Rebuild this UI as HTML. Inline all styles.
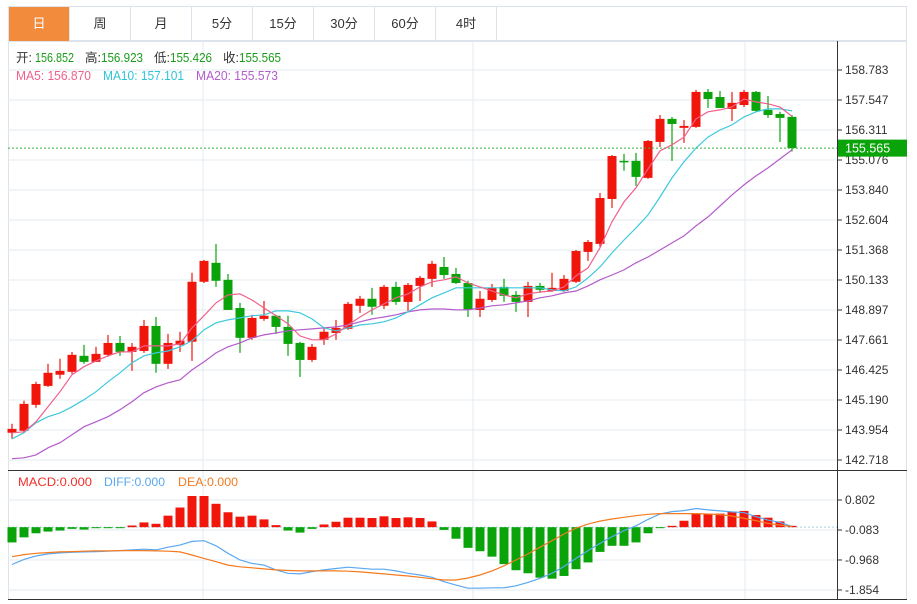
<!DOCTYPE html>
<html><head><meta charset="utf-8">
<style>
html,body{margin:0;padding:0;background:#fff;width:917px;height:604px;overflow:hidden;font-family:"Liberation Sans","Noto Sans CJK SC",sans-serif;}
#tabs{position:absolute;left:8px;top:6px;height:35px;width:899px;border:1px solid #dde3ea;box-sizing:border-box;display:flex;}
.tab{width:61px;height:34px;line-height:34px;text-align:center;font-size:13px;color:#333;border-right:1px solid #dde3ea;box-sizing:border-box;}
.tab.on{background:#f28c3c;color:#fff;}
svg{position:absolute;left:0;top:0;}
</style></head><body>
<div id="tabs">
<div class="tab on">日</div>
<div class="tab">周</div>
<div class="tab">月</div>
<div class="tab">5分</div>
<div class="tab">15分</div>
<div class="tab">30分</div>
<div class="tab">60分</div>
<div class="tab">4时</div>
</div>
<svg id="chart" width="917" height="604"></svg>
<script>
const opens=[143.84,143.92,144.99,145.77,146.23,146.35,147.01,146.76,147.05,147.54,147.17,147.21,148.24,146.68,147.46,147.59,150.06,150.84,150.14,148.98,147.75,148.53,148.66,148.20,147.54,146.84,147.67,147.95,148.12,149.07,149.36,149.07,149.85,149.23,149.89,150.18,150.67,150.38,150.01,148.90,149.31,149.85,149.52,149.23,149.89,149.68,149.68,150.06,151.29,151.62,153.47,155.04,155.04,154.34,155.82,156.77,156.40,156.44,157.88,157.67,157.18,157.34,157.88,157.14,156.97,156.852];
const closes=[144.00,145.03,145.85,146.31,146.39,147.05,146.76,147.09,147.54,147.17,147.38,148.24,146.68,147.54,147.63,150.06,150.92,150.10,148.90,147.75,148.57,148.66,148.20,147.50,146.84,147.38,148.00,148.16,149.15,149.36,149.03,149.85,149.23,149.93,150.22,150.80,150.34,150.01,148.90,149.36,149.81,149.48,149.23,149.89,149.73,149.81,150.18,151.33,151.70,153.51,155.24,155.00,154.38,155.86,156.77,156.56,156.48,157.88,157.59,157.22,157.43,157.88,157.10,156.93,156.81,155.565];
const highs=[144.21,145.16,145.94,146.68,146.89,147.17,147.46,147.38,147.87,147.83,147.54,148.49,148.61,147.91,148.00,150.43,150.96,151.62,150.38,149.19,148.70,149.27,148.70,148.66,147.59,147.50,148.20,148.49,149.23,149.48,149.81,149.93,150.06,150.01,150.30,150.92,151.08,150.63,150.10,149.68,149.97,150.18,149.68,150.06,150.01,150.43,150.34,151.37,151.78,153.72,155.28,155.33,155.37,155.90,156.93,156.85,156.72,157.96,158.00,157.92,157.88,157.96,157.92,157.71,157.06,156.923];
const lows=[143.59,143.84,144.87,145.73,146.06,146.27,146.68,146.76,146.97,147.01,146.39,147.13,146.31,146.47,147.17,146.80,150.01,149.85,148.90,147.13,147.67,148.45,147.91,147.01,146.14,146.76,147.46,147.67,148.08,148.78,148.70,148.94,149.11,148.86,149.27,149.85,150.18,149.97,148.61,148.61,149.23,149.23,148.82,148.61,149.60,149.64,149.64,150.01,150.92,151.50,153.10,154.63,154.01,154.30,155.61,155.04,155.78,156.40,157.22,157.22,156.68,157.26,157.06,156.81,155.82,155.426];
const ma5=[143.84,143.88,144.29,144.91,145.53,146.23,146.56,146.80,147.01,147.17,147.17,147.42,147.42,147.42,147.50,148.16,148.66,149.19,149.52,149.56,149.31,148.98,148.66,148.33,147.83,147.67,147.67,147.91,148.28,148.61,148.90,149.15,149.40,149.56,149.85,150.06,150.14,150.26,150.01,149.85,149.68,149.52,149.40,149.56,149.64,149.68,149.85,150.30,150.63,151.46,152.53,153.35,153.93,154.71,155.45,155.70,156.02,156.77,157.06,157.14,157.26,157.59,157.47,157.39,157.26,156.87];
const ma10=[143.59,143.84,144.25,144.50,144.66,144.91,145.20,145.53,145.94,146.31,146.72,147.01,147.13,147.21,147.38,147.63,148.08,148.37,148.49,148.57,148.66,148.70,148.86,148.86,148.78,148.53,148.16,148.04,148.16,148.28,148.33,148.41,148.57,148.82,149.11,149.40,149.60,149.81,149.81,149.81,149.81,149.81,149.81,149.81,149.81,149.73,149.68,149.85,150.22,150.67,151.25,151.78,152.28,152.81,153.55,154.34,155.00,155.57,156.02,156.31,156.52,156.85,157.06,157.18,157.18,157.10];
const ma20=[142.77,142.81,142.93,143.22,143.43,143.76,144.09,144.29,144.50,144.79,145.12,145.49,145.73,145.90,146.02,146.43,146.76,147.13,147.38,147.54,147.75,147.87,147.95,148.04,148.08,148.12,148.16,148.20,148.28,148.41,148.53,148.61,148.70,148.82,148.90,148.94,148.94,148.90,148.90,148.98,149.07,149.11,149.19,149.27,149.40,149.48,149.60,149.68,149.89,150.14,150.34,150.55,150.84,151.08,151.37,151.66,151.95,152.36,152.73,153.18,153.64,154.05,154.42,154.75,155.12,155.49];
const macdHist=[-0.45,-0.30,-0.18,-0.13,-0.10,-0.05,-0.07,-0.03,-0.01,-0.01,0.05,0.14,0.10,0.34,0.58,0.92,0.92,0.69,0.44,0.31,0.34,0.23,0.06,-0.10,-0.16,-0.05,0.08,0.16,0.28,0.28,0.27,0.32,0.27,0.29,0.27,0.17,-0.08,-0.34,-0.61,-0.71,-0.87,-1.09,-1.27,-1.36,-1.49,-1.52,-1.44,-1.24,-1.04,-0.73,-0.55,-0.55,-0.45,-0.18,-0.01,0.04,0.19,0.40,0.40,0.40,0.45,0.48,0.36,0.28,0.17,0.04];
const diff=[-1.10,-0.95,-0.85,-0.79,-0.76,-0.74,-0.73,-0.72,-0.71,-0.69,-0.67,-0.65,-0.67,-0.59,-0.53,-0.42,-0.40,-0.55,-0.77,-0.97,-1.07,-1.12,-1.26,-1.36,-1.38,-1.31,-1.26,-1.22,-1.18,-1.21,-1.24,-1.24,-1.29,-1.36,-1.41,-1.48,-1.61,-1.71,-1.80,-1.80,-1.79,-1.79,-1.73,-1.63,-1.51,-1.36,-1.16,-0.92,-0.69,-0.48,-0.28,-0.10,0.04,0.23,0.39,0.46,0.49,0.55,0.51,0.48,0.45,0.43,0.31,0.21,0.14,0.02];
const dea=[-0.87,-0.81,-0.77,-0.75,-0.73,-0.72,-0.71,-0.70,-0.70,-0.69,-0.69,-0.69,-0.70,-0.71,-0.73,-0.82,-0.92,-1.02,-1.12,-1.17,-1.20,-1.23,-1.26,-1.28,-1.29,-1.29,-1.29,-1.29,-1.30,-1.32,-1.35,-1.38,-1.41,-1.44,-1.48,-1.52,-1.56,-1.56,-1.50,-1.41,-1.29,-1.14,-0.97,-0.79,-0.59,-0.40,-0.20,-0.03,0.09,0.18,0.24,0.29,0.34,0.38,0.40,0.40,0.40,0.40,0.39,0.37,0.33,0.26,0.19,0.11,0.06,0.02];
const priceTicks=["158.783","157.547","156.311","155.076","153.840","152.604","151.368","150.133","148.897","147.661","146.425","145.190","143.954","142.718"];
const macdTicks=["0.802","-0.083","-0.968","-1.854"];
const lastPrice=155.565;

const NS="http://www.w3.org/2000/svg";
const svg=document.getElementById('chart');
function mk(tag,attrs,parent){const e=document.createElementNS(NS,tag);for(const k in attrs)e.setAttribute(k,attrs[k]);(parent||svg).appendChild(e);return e;}
const PL=8,AX=837,RE=907;
const pTop=158.783,pBot=142.718;
function py(v){return 70+(pTop-v)/(pTop-pBot)*390;}
const mTop=0.802,mBot=-1.854;
function my(v){return 500+(mTop-v)/(mTop-mBot)*90;}
function cx(i){return 12+12*i;}
const RED="#f0160c",GREEN="#0aa30a";

let e=mk('rect',{x:PL+0.5,y:41.5,width:RE-PL-1,height:558,fill:'none',stroke:'#dde3ea'});


priceTicks.forEach((t,i)=>{const y=py(parseFloat(t));
 const g=mk('line',{x1:PL,x2:AX,y1:y,y2:y,stroke:'#e3ebf2'});
 
 
 const tk=mk('line',{x1:AX,x2:AX+5,y1:y,y2:y,stroke:'#333'});
 
 
 const tx=mk('text',{x:845,y:y+4,'font-size':12,fill:'#333'});tx.textContent=t;
 
 
});
macdTicks.forEach(t=>{const y=my(parseFloat(t));
 const g=mk('line',{x1:PL,x2:AX,y1:y,y2:y,stroke:'#e3ebf2'});
 
 
 const tk=mk('line',{x1:AX,x2:AX+5,y1:y,y2:y,stroke:'#333'});
 
 
 const tx=mk('text',{x:845,y:y+4,'font-size':12,fill:'#333'});tx.textContent=t;
 
 
});
[203,473,745].forEach(x=>{const g=mk('line',{x1:x,x2:x,y1:41,y2:600,stroke:'#e3ebf2'});
 
 });
e=mk('line',{x1:PL,x2:RE,y1:470.5,y2:470.5,stroke:'#333'});


e=mk('line',{x1:PL,x2:RE,y1:599.5,y2:599.5,stroke:'#333'});


e=mk('line',{x1:AX+0.5,x2:AX+0.5,y1:41,y2:600,stroke:'#333'});


e=mk('line',{x1:PL,x2:AX,y1:my(0),y2:my(0),stroke:'#a8d0e8','stroke-dasharray':'2,2'});



opens.forEach((o,i)=>{const c=closes[i];const up=c>=o;const col=up?RED:GREEN;const x=cx(i);
 const w=mk('line',{x1:x,x2:x,y1:py(highs[i]),y2:py(lows[i]),stroke:col,'stroke-width':1.2});
 
 
 const t=py(Math.max(o,c)),b=py(Math.min(o,c));
 const r=mk('rect',{x:x-4.5,y:t,width:9,height:Math.max(1.5,b-t),fill:col});
 
 
});
function line(arr,f,col,name){const d=arr.map((v,i)=>(i?'L':'M')+cx(i)+','+f(v).toFixed(1)).join('');
 const p=mk('path',{d:d,fill:'none',stroke:col,'stroke-width':1.2});
 
 }
line(ma20,py,'#b45ccc','ma20-line');
line(ma10,py,'#3ec9dd','ma10-line');
line(ma5,py,'#f0608c','ma5-line');
e=mk('line',{x1:PL,x2:AX,y1:py(lastPrice),y2:py(lastPrice),stroke:'#3cb03c','stroke-dasharray':'2,2'});


e=mk('rect',{x:838,y:py(lastPrice)-8.5,width:69,height:17,fill:'#0aa30a'});


e=mk('text',{x:845,y:py(lastPrice)+4.5,'font-size':12.5,fill:'#fff'});e.textContent=lastPrice.toFixed(3);



macdHist.forEach((v,i)=>{const y0=my(0),y1=my(v);
 const r=mk('rect',{x:cx(i)-4.5,y:Math.min(y0,y1),width:9,height:Math.max(1,Math.abs(y1-y0)),fill:v>=0?RED:GREEN});
 
 });
line(diff,my,'#5aa8f0','diff-line');
line(dea,my,'#f47a20','dea-line');

function txt(x,y,s,col,name,size,len){const t=mk('text',{x:x,y:y,'font-size':size||13,fill:col});t.textContent=s;
 if(len){t.setAttribute('textLength',len);t.setAttribute('lengthAdjust','spacingAndGlyphs');}
 
 return t;}
const G='#1a9c1a';
txt(16,62,'开:','#333','open-label',12.5);txt(35,62,'156.852',G,'open-value',12.5,39);
txt(85,62,'高:','#333','high-label',12.5);txt(101,62,'156.923',G,'high-value',12.5,42);
txt(154,62,'低:','#333','low-label',12.5);txt(170,62,'155.426',G,'low-value',12.5,42);
txt(223,62,'收:','#333','close-label',12.5);txt(239,62,'155.565',G,'close-value',12.5,42);
txt(16,80,'MA5: 156.870','#f0608c','ma5-legend',12.5,75);
txt(103,80,'MA10: 157.101','#2ec4d8','ma10-legend',12.5,81);
txt(196,80,'MA20: 155.573','#b45ccc','ma20-legend',12.5,82);
txt(18,486,'MACD:0.000','#f0302a','macd-legend',12,74);
txt(104,486,'DIFF:0.000','#5aa8f0','diff-legend',12,61);
txt(178,486,'DEA:0.000','#f47a20','dea-legend',12,60);
</script>
</body></html>
